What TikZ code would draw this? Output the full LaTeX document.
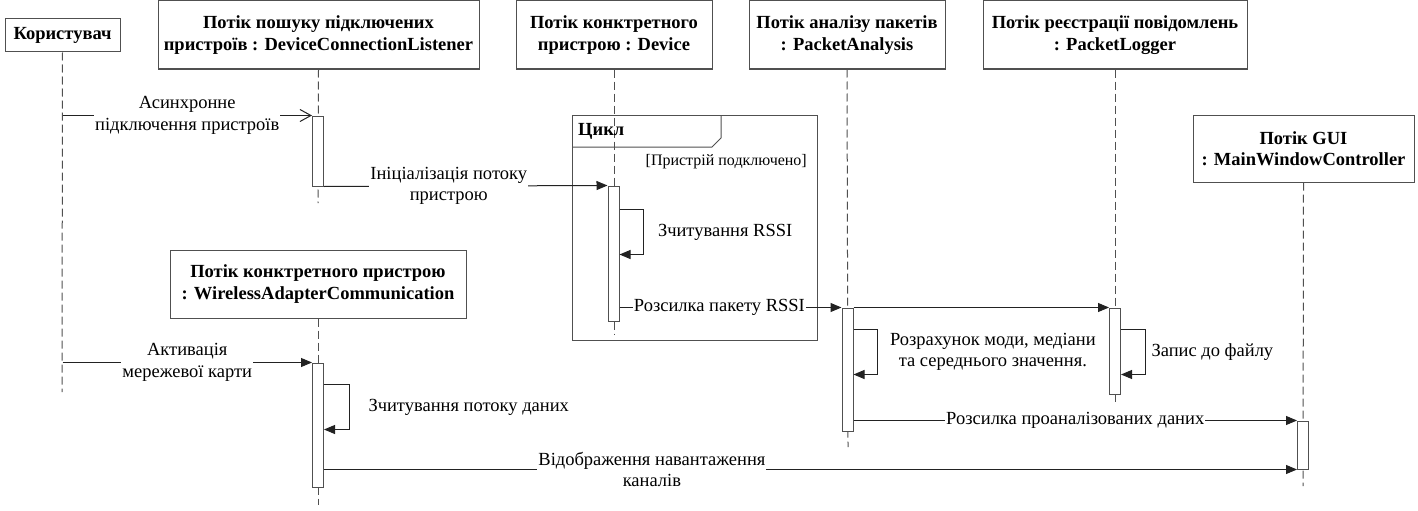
\documentclass[tikz,border=0pt]{standalone}
\usepackage{fontspec}
\setmainfont{Liberation Serif}
\usetikzlibrary{arrows.meta,calc}
\definecolor{linegray}{HTML}{505050}
\definecolor{msgline}{HTML}{222222}
\tikzset{
  objbox/.style={
    draw=linegray, fill=white, line width=1pt,
    font=\fontsize{18.5}{21.5}\selectfont\bfseries, align=center,
    inner sep=0pt, minimum height=68,
  },
  lifeline/.style={draw=linegray, line width=1pt, dash pattern=on 8pt off 4pt},
  actbar/.style={draw=linegray, fill=white, line width=1pt, minimum width=11, inner sep=0pt},
  msg/.style={draw=msgline, line width=1pt, -{Triangle[length=11pt,width=9pt]}},
  asyncmsg/.style={draw=msgline, line width=1pt, -{Straight Barb[length=11pt,width=12pt]}},
  lbl/.style={fill=white, font=\fontsize{18.5}{21.5}\selectfont, align=center, inner sep=1pt},
  selflbl/.style={font=\fontsize{18.5}{21.5}\selectfont, align=center, inner sep=1pt, anchor=west},
}

\begin{document}
\begin{tikzpicture}[x=1pt,y=-1pt]
  \useasboundingbox (0,0) rectangle (1418,511);

  % objects
  \node[objbox, minimum width=115, minimum height=33] (user) at (62.5,35.5) {Користувач};
  \node[objbox, minimum width=321] (listener) at (318.5,35)
    {Потік пошуку підключених\\пристроїв : DeviceConnectionListener};
  \node[objbox, minimum width=196] (device) at (614,35)
    {Потік конктретного\\пристрою : Device};
  \node[objbox, minimum width=196] (analysis) at (847,35)
    {Потік аналізу пакетів\\: PacketAnalysis};
  \node[objbox, minimum width=264] (logger) at (1115,35)
    {Потік реєстрації повідомлень\\: PacketLogger};
  \node[objbox, minimum width=221, minimum height=67] (gui) at (1303.5,148.5)
    {Потік GUI\\: MainWindowController};
  \node[objbox, minimum width=296] (adapter) at (318,284)
    {Потік конктретного пристрою\\: WirelessAdapterCommunication};

  % lifelines
  \coordinate (userend) at (62,392);
  \coordinate (listenerend) at (318,203);
  \coordinate (deviceend) at (614,335);
  \coordinate (analysisend) at (848,447);
  \coordinate (loggerend) at (1115,402);
  \coordinate (guiend) at (1303,486);
  \coordinate (adapterend) at (318,505);
  \draw[lifeline] (user.south) -- (userend);
  \draw[lifeline] (listener.south) -- (listenerend);
  \draw[lifeline] (device.south) -- (deviceend);
  \draw[lifeline] (analysis.south) -- (analysisend);
  \draw[lifeline] (logger.south) -- (loggerend);
  \draw[lifeline] (gui.south) -- (guiend);
  \draw[lifeline] (adapter.south) -- (adapterend);

  % loop frame
  \draw[linegray, line width=1pt] (572,115) rectangle (817,340);
  \draw[linegray, line width=1pt] (572,147) -- (712,147) -- (721,138) -- (721,115);
  \node[font=\fontsize{18.5}{21.5}\selectfont\bfseries, anchor=west, inner sep=1pt] (looptitle) at (577,131) {Цикл};
  \node[font=\fontsize{16}{19}\selectfont, anchor=east, inner sep=1pt] (guard) at (808,162) {[Пристрій подключено]};

  % activation bars
  \node[actbar, minimum height=70] (lbar) at (318,151) {};
  \node[actbar, minimum height=135] (dbar) at (613.5,253.5) {};
  \node[actbar, minimum height=123] (abar) at (847.5,369.5) {};
  \node[actbar, minimum height=86] (pbar) at (1115,351) {};
  \node[actbar, minimum height=48] (gbar) at (1303,445) {};
  \node[actbar, minimum height=124] (wbar) at (318,425) {};

  % messages
  \draw[asyncmsg] (user.south |- lbar.north west) -- node[lbl]{Асинхронне\\підключення пристроїв} (lbar.north west);
  \draw[msg] (lbar.south east) -- node[lbl, pos=0.44]{Ініціалізація потоку\\пристрою} (dbar.north west);
  \draw[msg] ($(dbar.north east)+(0,24)$) -- ++(24,0)
    |- node[selflbl, pos=0.25, xshift=13]{Зчитування RSSI} ($(dbar.north east)+(0,69)$);
  \draw[msg] (dbar.east |- abar.north) -- node[lbl, pos=0.45]{Розсилка пакету RSSI} (abar.north west);
  \draw[msg] (abar.north east) -- (pbar.north west);
  \draw[msg] ($(abar.north east)+(0,22)$) -- ++(24,0)
    |- node[selflbl, pos=0.25, xshift=11]{Розрахунок моди, медіани\\та середнього значення.} ($(abar.north east)+(0,67)$);
  \draw[msg] ($(pbar.north east)+(0,22)$) -- ++(24,0)
    |- node[selflbl, pos=0.25, xshift=5]{Запис до файлу} ($(pbar.north east)+(0,67)$);
  \draw[msg] (abar.east |- gbar.north) -- node[lbl]{Розсилка проаналізованих даних} (gbar.north west);
  \draw[msg] (user.south |- wbar.north west) -- node[lbl]{Активація\\мережевої карти} (wbar.north west);
  \draw[msg] ($(wbar.north east)+(0,22)$) -- ++(25,0)
    |- node[selflbl, pos=0.25, xshift=18]{Зчитування потоку даних} ($(wbar.north east)+(0,67)$);
  \draw[msg] (wbar.east |- gbar.south) -- node[lbl, pos=0.337]{Відображення навантаження\\каналів} (gbar.south west);

\end{tikzpicture}
\end{document}
